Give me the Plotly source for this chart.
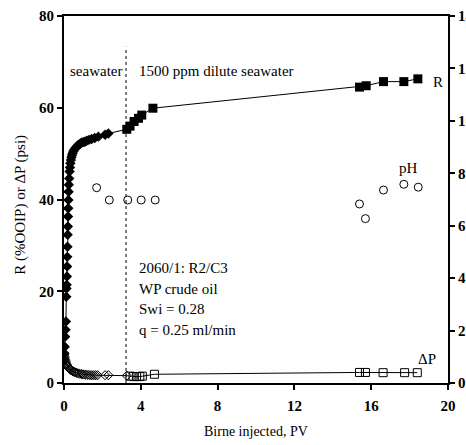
import plotly.graph_objects as go

# ---- data ----
# Oil recovery R (%OOIP), seawater flood (filled diamonds)
r_sw_x = [0.0, 0.02, 0.04, 0.06, 0.08, 0.10, 0.12, 0.13, 0.14, 0.15, 0.16, 0.17, 0.18, 0.19,
          0.20, 0.21, 0.22, 0.23, 0.24, 0.25, 0.27, 0.29, 0.31, 0.33, 0.36, 0.39, 0.42, 0.45,
          0.49, 0.54, 0.60, 0.66, 0.72, 0.79, 0.86, 0.92, 1.00, 1.08, 1.18, 1.30, 1.44, 1.60,
          1.79, 2.14, 2.31]
r_sw_y = [5.0, 6.5, 7.9, 10.1, 11.6, 13.4, 18.8, 20.6, 21.4, 23.2, 25.4, 27.5, 29.7, 32.3,
          34.1, 36.3, 38.1, 39.9, 41.7, 43.2, 44.6, 46.1, 47.0, 47.9, 48.6, 49.2, 49.7, 50.1,
          50.5, 50.9, 51.2, 51.5, 51.8, 52.0, 52.2, 52.4, 52.5, 52.6, 52.8, 53.0, 53.2, 53.4,
          53.7, 54.1, 54.4]
# Oil recovery R, 1500 ppm dilute seawater (filled squares)
r_dsw_x = [3.27, 3.44, 3.65, 3.88, 4.05, 4.63, 15.39, 15.74, 16.64, 17.70, 18.43]
r_dsw_y = [55.3, 56.0, 57.0, 57.7, 58.4, 59.9, 64.5, 64.8, 65.7, 65.7, 66.3]

# Pressure drop dP (psi), seawater (open diamonds)
dp_sw_x = [0.0, 0.01, 0.02, 0.03, 0.05, 0.07, 0.09, 0.11, 0.14, 0.17, 0.20, 0.24, 0.28, 0.32,
           0.37, 0.42, 0.48, 0.54, 0.60, 0.67, 0.74, 0.82, 0.90, 0.98, 1.06, 1.15, 1.25, 1.35,
           1.45, 1.55, 1.65, 1.75, 2.14, 2.31, 3.27]
dp_sw_y = [6.4, 6.1, 5.8, 5.5, 5.2, 4.9, 4.6, 4.3, 4.0, 3.7, 3.5, 3.3, 3.1, 2.95,
           2.8, 2.65, 2.5, 2.4, 2.3, 2.2, 2.1, 2.0, 1.95, 1.9, 1.85, 1.8, 1.75, 1.72,
           1.7, 1.7, 1.7, 1.7, 1.7, 1.7, 1.6]
# Pressure drop dP, dilute seawater (open squares)
dp_dsw_x = [3.44, 3.60, 3.78, 3.95, 4.08, 4.71, 15.39, 15.70, 16.62, 17.74, 18.40]
dp_dsw_y = [1.5, 1.4, 1.4, 1.4, 1.5, 1.9, 2.3, 2.3, 2.25, 2.25, 2.25]

# Effluent pH (right axis, open circles)
ph_x = [1.70, 2.36, 3.32, 4.02, 4.75, 15.39, 15.70, 16.64, 17.70, 18.45]
ph_y = [7.45, 6.98, 6.98, 6.98, 6.98, 6.83, 6.27, 7.36, 7.58, 7.47]

x_ticks = [0, 4, 8, 12, 16, 20]
y_ticks = [0, 20, 40, 60, 80]
y2_ticks = [0, 2, 4, 6, 8, 10, 12, 14]

switch_pv = 3.23          # switch from seawater to dilute seawater
switch_top = 73.3

info_lines = ["2060/1: R2/C3", "WP crude oil", "Swi = 0.28", "q = 0.25 ml/min"]

FONT = "Liberation Serif"
BLK = "black"

fig = go.Figure()

# connecting lines
fig.add_trace(go.Scatter(x=r_sw_x + r_dsw_x, y=r_sw_y + r_dsw_y, mode="lines",
                         line=dict(color=BLK, width=1), showlegend=False, hoverinfo="skip"))
fig.add_trace(go.Scatter(x=dp_sw_x + dp_dsw_x, y=dp_sw_y + dp_dsw_y, mode="lines",
                         line=dict(color=BLK, width=1), showlegend=False, hoverinfo="skip"))
# markers
fig.add_trace(go.Scatter(x=dp_sw_x, y=dp_sw_y, mode="markers",
                         marker=dict(symbol="diamond-open", size=7, color=BLK, line=dict(width=1)),
                         showlegend=False))
fig.add_trace(go.Scatter(x=dp_dsw_x, y=dp_dsw_y, mode="markers",
                         marker=dict(symbol="square-open", size=8, color=BLK, line=dict(width=1)),
                         showlegend=False))
fig.add_trace(go.Scatter(x=r_sw_x, y=r_sw_y, mode="markers",
                         marker=dict(symbol="diamond", size=8, color=BLK),
                         showlegend=False))
fig.add_trace(go.Scatter(x=r_dsw_x, y=r_dsw_y, mode="markers",
                         marker=dict(symbol="square", size=9, color=BLK),
                         showlegend=False))
fig.add_trace(go.Scatter(x=ph_x, y=ph_y, mode="markers", yaxis="y2",
                         marker=dict(symbol="circle-open", size=8, color=BLK, line=dict(width=1)),
                         showlegend=False))

# vertical dashed separator
fig.add_shape(type="line", x0=switch_pv, x1=switch_pv, y0=0, y1=switch_top,
              xref="x", yref="y", line=dict(color=BLK, width=1, dash="dot"))

tf = dict(family=FONT, size=15, color=BLK, weight="bold")
ann_font = dict(family=FONT, size=15, color=BLK)

fig.add_annotation(x=switch_pv - 0.1, y=68, text="seawater", xanchor="right", yanchor="middle",
                   showarrow=False, font=ann_font)
fig.add_annotation(x=switch_pv + 0.55, y=68, text="1500 ppm dilute seawater", xanchor="left",
                   yanchor="middle", showarrow=False, font=ann_font)
for i, t in enumerate(info_lines):
    fig.add_annotation(x=3.8, y=25.1 - i * 4.5, text=t, xanchor="left", yanchor="middle",
                       showarrow=False, font=ann_font)
fig.add_annotation(x=19.1, y=65.6, text="R", xanchor="left", yanchor="middle",
                   showarrow=False, font=ann_font)
fig.add_annotation(x=17.94, y=46.8, text="pH", xanchor="center", yanchor="middle",
                   showarrow=False, font=ann_font)
fig.add_annotation(x=18.9, y=5.3, text="ΔP", xanchor="center", yanchor="middle",
                   showarrow=False, font=ann_font)

# axis titles
fig.add_annotation(xref="paper", yref="paper", x=0.5, y=-0.131, text="Birne injected, PV",
                   xanchor="center", yanchor="middle", showarrow=False,
                   font=dict(family=FONT, size=14, color=BLK))
fig.add_annotation(xref="paper", yref="paper", x=-0.115, y=0.485, text="R (%OOIP) or ΔP (psi)",
                   xanchor="center", yanchor="middle", textangle=-90, showarrow=False,
                   font=dict(family=FONT, size=15, color=BLK))

fig.update_layout(
    width=466, height=445,
    margin=dict(l=64, r=18, t=16, b=62, autoexpand=False),
    paper_bgcolor="white", plot_bgcolor="white",
    font=dict(family=FONT, color=BLK),
    xaxis=dict(range=[0, 20], tickvals=x_ticks, showgrid=False, zeroline=False,
               showline=True, linecolor=BLK, linewidth=2, mirror=True,
               ticks="outside", ticklen=5, tickwidth=2, tickcolor=BLK, tickfont=tf,
               ticklabelstandoff=3),
    yaxis=dict(range=[0, 80], tickvals=y_ticks, showgrid=False, zeroline=False,
               showline=True, linecolor=BLK, linewidth=2,
               ticks="outside", ticklen=5, tickwidth=2, tickcolor=BLK, tickfont=tf),
    yaxis2=dict(range=[0, 14], tickvals=y2_ticks, overlaying="y", side="right",
                showgrid=False, zeroline=False, showline=True, linecolor=BLK, linewidth=2,
                ticks="outside", ticklen=5, tickwidth=2, tickcolor=BLK, tickfont=tf),
)

fig.write_html("out.html")
